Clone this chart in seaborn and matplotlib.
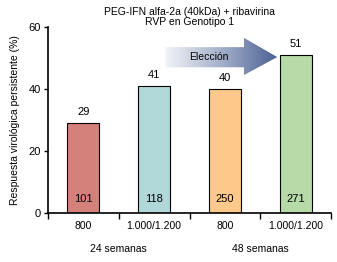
import numpy as np
import pandas as pd
import matplotlib
matplotlib.use("Agg")
import matplotlib.pyplot as plt
import seaborn as sns
from matplotlib.patches import Polygon

sns.set_style("ticks", {"axes.edgecolor": "black", "text.color": "black",
                        "xtick.color": "black", "ytick.color": "black",
                        "axes.labelcolor": "black"})
plt.rcParams['font.family'] = ['Liberation Sans', 'DejaVu Sans']

# Data
groups = ["g1", "g2", "g3", "g4"]
dose_labels = ["800", "1.000/1.200", "800", "1.000/1.200"]
week_labels = ["24 semanas", "48 semanas"]
rvp = [29, 41, 40, 51]
n_patients = [101, 118, 250, 271]
colors = ["#D4807B", "#B1D8D8", "#FDC98A", "#B6DBA9"]

df = pd.DataFrame({"grupo": groups, "rvp": rvp})

fig = plt.figure(figsize=(3.37, 2.62), dpi=100)
ax = fig.add_axes([48/337, 1-213/262, 283/337, 186/262])

sns.barplot(data=df, x="grupo", y="rvp", hue="grupo", palette=colors,
            legend=False, width=0.45, edgecolor="black", linewidth=0.8,
            saturation=1, ax=ax)

ax.set_xlim(-0.5, 3.5)
ax.set_ylim(0, 60)
ax.set_yticks([0, 20, 40, 60])
ax.tick_params(axis='y', labelsize=8, length=3, width=1, pad=2)
ax.set_xticks([-0.5, 0.5, 1.5, 2.5, 3.5])
ax.set_xticklabels([])
ax.set_xticks([0, 1, 2, 3], minor=True)
ax.set_xticklabels(dose_labels, minor=True, fontsize=7.5)
ax.tick_params(axis='x', which='major', length=4, width=1)
ax.tick_params(axis='x', which='minor', length=0, pad=6)
ax.set_xlabel("")
ax.set_ylabel("Respuesta virológica persistente (%)", fontsize=7.5, labelpad=6)
for s in ["top", "right"]:
    ax.spines[s].set_visible(False)
for s in ["left", "bottom"]:
    ax.spines[s].set_linewidth(1.2)

for i, (v, n) in enumerate(zip(rvp, n_patients)):
    ax.text(i, v + 2, str(v), ha="center", va="bottom", fontsize=8)
    ax.text(i, 4.5, str(n), ha="center", va="center", fontsize=8)

# group labels
ax.text(0.5, -11.6, week_labels[0], ha="center", va="center", fontsize=7.5, clip_on=False)
ax.text(2.5, -11.6, week_labels[1], ha="center", va="center", fontsize=7.5, clip_on=False)

# gradient arrow
verts = [(1.16, 53.5), (2.27, 53.5), (2.27, 56.5), (2.74, 50.3),
         (2.27, 44.5), (2.27, 47.0), (1.16, 47.0)]
poly = Polygon(verts, closed=True, facecolor="none", edgecolor="none")
ax.add_patch(poly)
grad = np.linspace(0, 1, 256).reshape(1, -1)
cmap = matplotlib.colors.LinearSegmentedColormap.from_list("g", ["#F2F4F8", "#A4B0CA", "#4C6194"])
im = ax.imshow(grad, extent=[1.16, 2.74, 44.5, 56.5], aspect="auto", cmap=cmap,
               zorder=3, interpolation="bicubic")
im.set_clip_path(poly)
ax.text(1.78, 50.2, "Elección", ha="center", va="center", fontsize=7.5, zorder=4)

fig.text(189.5/337, 1-12/262, "PEG-IFN alfa-2a (40kDa) + ribavirina", ha="center",
         va="center", fontsize=7.5)
fig.text(189.5/337, 1-22/262, "RVP en Genotipo 1", ha="center", va="center", fontsize=7.5)

fig.savefig("out.png", dpi=100)
